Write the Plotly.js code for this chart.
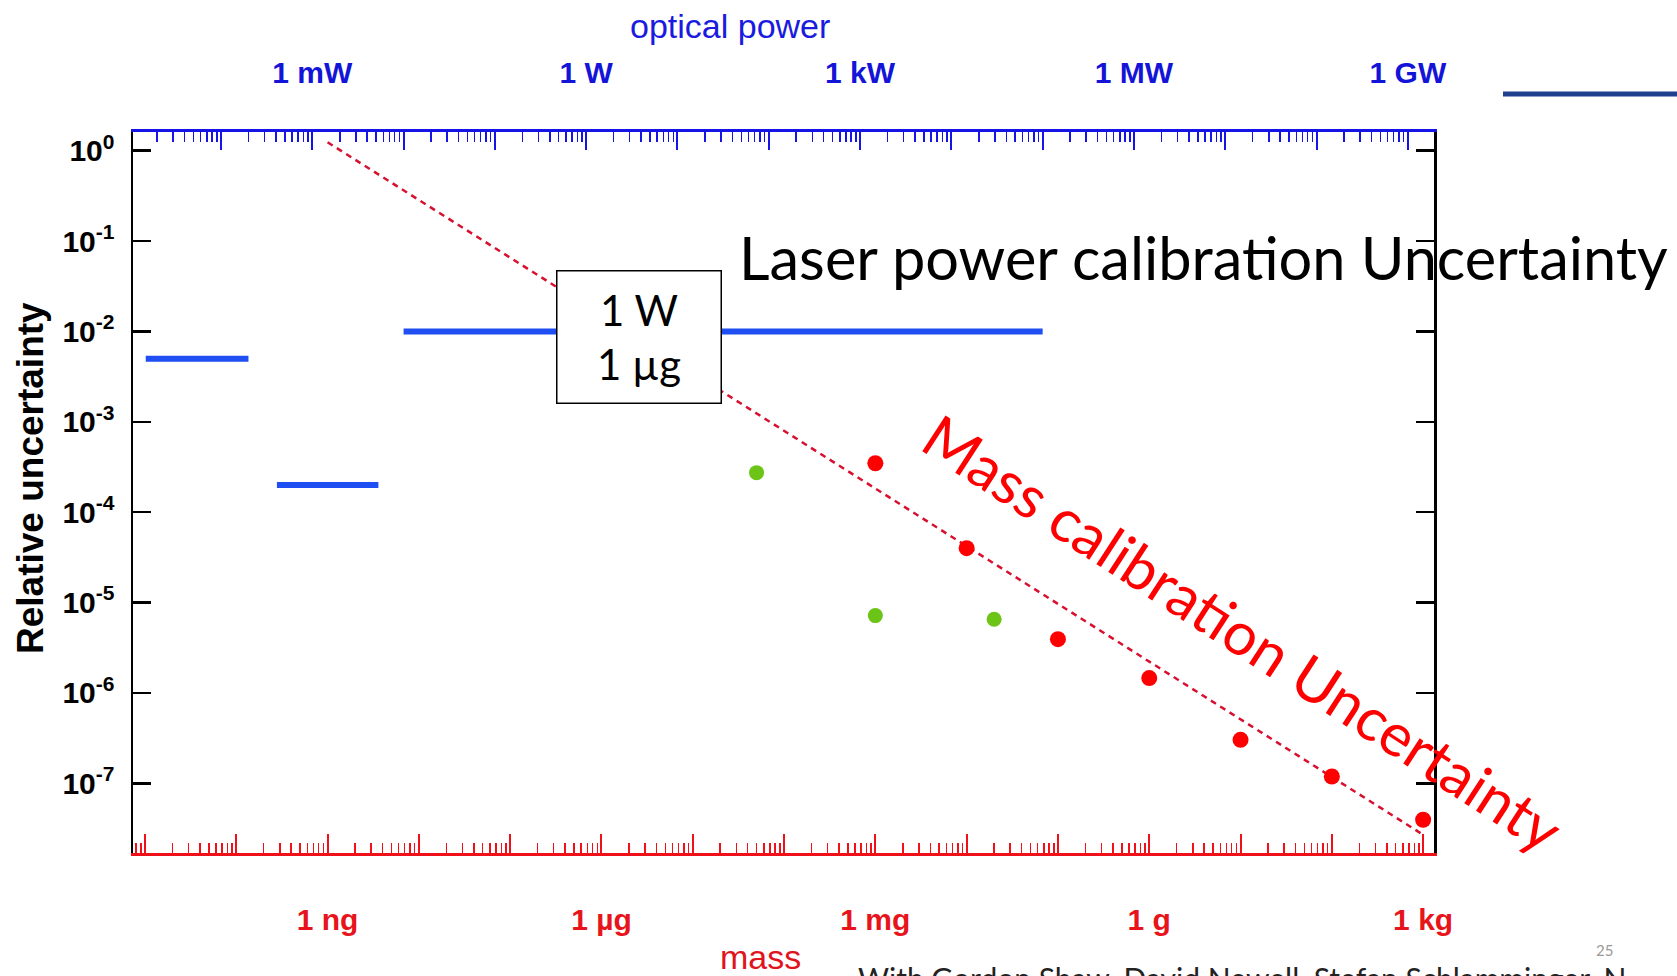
<!DOCTYPE html>
<html>
<head>
<meta charset="utf-8">
<script src="https://cdn.plot.ly/plotly-3.0.1.min.js"></script>
<style>html,body{margin:0;padding:0;background:#fff;}#chart{width:1677px;height:976px;}</style>
</head>
<body>
<div id="chart"></div>
<script>
// ---------------- data ----------------
// bottom axis: mass (grams) — long tick every decade, label every 3 decades
const massDecades = [1e-11, 1e-10, 1e-9, 1e-8, 1e-7, 1e-6, 1e-5, 1e-4, 1e-3, 1e-2, 1e-1, 1, 1e1, 1e2, 1e3];
const massLabelVals = [1e-9, 1e-6, 1e-3, 1, 1e3];
const massLabels = ['1 ng', '1 µg', '1 mg', '1 g', '1 kg'];
// top axis: optical power (W)
const powerDecades = [1e-4, 1e-3, 1e-2, 1e-1, 1, 1e1, 1e2, 1e3, 1e4, 1e5, 1e6, 1e7, 1e8, 1e9];
const powerLabelVals = [1e-3, 1, 1e3, 1e6, 1e9];
const powerLabels = ['1 mW', '1 W', '1 kW', '1 MW', '1 GW'];
// left axis: relative uncertainty
const uncTickVals = [1, 1e-1, 1e-2, 1e-3, 1e-4, 1e-5, 1e-6, 1e-7];
const uncTickText = ['10<sup>0</sup>', '10<sup>-1</sup>', '10<sup>-2</sup>', '10<sup>-3</sup>',
                     '10<sup>-4</sup>', '10<sup>-5</sup>', '10<sup>-6</sup>', '10<sup>-7</sup>'];

// laser power calibration uncertainty (blue bars): power span in W and uncertainty
const laserPowerStart = [1.5e-5, 4.1e-4, 1.0e-2];
const laserPowerEnd   = [2.0e-4, 5.3e-3, 1.0e5];
const laserUnc        = [5e-3, 2e-4, 1e-2];

// mass calibration (red points): mass in g
const redMass = [1e-3, 1e-2, 1e-1, 1, 1e1, 1e2, 1e3];
const redUnc  = [3.48e-4, 4.0e-5, 3.94e-6, 1.46e-6, 3.03e-7, 1.19e-7, 3.95e-8];
// green points
const greenMass = [5e-5, 1e-3, 2e-2];
const greenUnc  = [2.74e-4, 7.18e-6, 6.55e-6];
// dashed trend line
const trendMass = [1e-9, 1e3];
const trendUnc  = [1.24, 2.7e-8];

// radiation pressure conversion: P = m * g * c / 2 (m in g -> W)
const WATT_PER_GRAM = 1e-3 * 9.81 * 2.998e8 / 2;

// ---------------- layout helpers ----------------
const W = 1677, H = 976;
const M = {l: 133, r: 243, t: 132, b: 123};
const PW = W - M.l - M.r, PH = H - M.t - M.b;
const px = x => (x - M.l) / PW;
const py = y => (H - M.b - y) / PH;

const massRange = [-11.131, 3.119];
const powerRange = massRange.map(v => v + Math.log10(WATT_PER_GRAM));
const uncRange = [-7.771, 0.207];

const RED = '#f0101a', BLUE_AX = '#1414e6', BLUE_LINE = '#1f4ff2', GREEN = '#6cc417';
const ARIAL = 'Arial, Liberation Sans, sans-serif';
const CAL = 'Lato, Open Sans, sans-serif';

// blue segments from arrays
const bx = [], by = [];
laserPowerStart.forEach((s, i) => { bx.push(s, laserPowerEnd[i], null); by.push(laserUnc[i], laserUnc[i], null); });

const traces = [
  {x: [], y: [], xaxis: 'x3', yaxis: 'y', type: 'scatter', mode: 'lines', showlegend: false},
  {x: [], y: [], xaxis: 'x4', yaxis: 'y', type: 'scatter', mode: 'lines', showlegend: false},
  {x: bx, y: by, xaxis: 'x2', yaxis: 'y', mode: 'lines', type: 'scatter',
   line: {color: BLUE_LINE, width: 6}, hoverinfo: 'skip', showlegend: false, connectgaps: false},
  {x: trendMass, y: trendUnc, mode: 'lines', type: 'scatter',
   line: {color: '#d81030', width: 2.5, dash: '6px,5px'}, showlegend: false},
  {x: greenMass, y: greenUnc, mode: 'markers', type: 'scatter',
   marker: {color: GREEN, size: 15}, showlegend: false, cliponaxis: false},
  {x: redMass, y: redUnc, mode: 'markers', type: 'scatter',
   marker: {color: '#ff0000', size: 16}, showlegend: false, cliponaxis: false}
];

const tickAxis = (range, side, color, vals, len) => ({
  type: 'log', range: range, side: side, overlaying: 'x', anchor: 'y',
  tickmode: 'array', tickvals: vals, showticklabels: false,
  ticks: 'inside', ticklen: len, tickwidth: 2, tickcolor: color,
  minor: {dtick: 'D1', ticks: 'inside', ticklen: 10, tickwidth: 1.5, tickcolor: color, showgrid: false},
  showline: false, showgrid: false, zeroline: false, automargin: false
});

const layout = {
  width: W, height: H,
  margin: M,
  paper_bgcolor: '#fff', plot_bgcolor: '#fff',
  showlegend: false,
  xaxis: {
    type: 'log', range: massRange, side: 'bottom', anchor: 'y',
    tickmode: 'array', tickvals: massLabelVals, ticktext: massLabels,
    ticks: 'inside', ticklen: 19, tickwidth: 2, tickcolor: RED,
    showline: true, linecolor: RED, linewidth: 3, mirror: false,
    showgrid: false, zeroline: false, automargin: false,
    ticklabelstandoff: 38,
    tickfont: {family: ARIAL, size: 30, color: '#e8141c', weight: 'bold'}
  },
  xaxis2: {
    type: 'log', range: powerRange, side: 'top', overlaying: 'x', anchor: 'y',
    tickmode: 'array', tickvals: powerLabelVals, ticktext: powerLabels,
    ticks: 'inside', ticklen: 18, tickwidth: 2, tickcolor: BLUE_AX,
    showline: true, linecolor: BLUE_AX, linewidth: 3, mirror: false,
    showgrid: false, zeroline: false, automargin: false,
    ticklabelstandoff: 34,
    tickfont: {family: ARIAL, size: 30, color: '#1414d8', weight: 'bold'}
  },
  xaxis3: tickAxis(massRange, 'bottom', RED, massDecades, 19),
  xaxis4: tickAxis(powerRange, 'top', BLUE_AX, powerDecades, 18),
  yaxis: {
    type: 'log', range: uncRange,
    tickmode: 'array', tickvals: uncTickVals, ticktext: uncTickText,
    ticks: 'inside', ticklen: 18, tickwidth: 2.5, tickcolor: '#000',
    showline: true, linecolor: '#000', linewidth: 2.5, mirror: 'ticks',
    showgrid: false, zeroline: false, automargin: false,
    ticklabelstandoff: 10,
    tickfont: {family: ARIAL, size: 30, color: '#000', weight: 'bold'}
  },
  shapes: [
    {type: 'line', xref: 'paper', yref: 'paper', x0: px(1503), x1: px(1677), y0: py(94), y1: py(94),
     line: {color: '#1f3f8f', width: 5}}
  ],
  annotations: [
    {text: 'optical power', xref: 'paper', yref: 'paper', x: px(730), y: py(26), xanchor: 'center', yanchor: 'middle',
     showarrow: false, font: {family: ARIAL, size: 34, color: '#1a1ae0'}},
    {text: 'mass', xref: 'paper', yref: 'paper', x: px(760), y: py(957), xanchor: 'center', yanchor: 'middle',
     showarrow: false, font: {family: ARIAL, size: 34, color: '#e0141c'}},
    {text: 'Relative uncertainty', xref: 'paper', yref: 'paper', x: px(30), y: py(478), xanchor: 'center', yanchor: 'middle',
     textangle: -90, showarrow: false, font: {family: ARIAL, size: 37, color: '#000', weight: 'bold'}},
    {text: 'Laser power calibration Uncertainty', xref: 'paper', yref: 'paper', x: px(1203), y: py(257),
     xanchor: 'center', yanchor: 'middle', showarrow: false, font: {family: CAL, size: 59.5, color: '#000'}},
    {text: 'Mass calibration Uncertainty', xref: 'paper', yref: 'paper', x: px(1243), y: py(632),
     xanchor: 'center', yanchor: 'middle', textangle: 33, showarrow: false, font: {family: CAL, size: 59.5, color: '#ff0000'}},
    {text: '1 W<br>1 µg', xref: 'paper', yref: 'paper', x: px(638.5), y: py(336.7), xanchor: 'center', yanchor: 'middle',
     showarrow: false, width: 163, height: 131, borderpad: 0, bgcolor: '#fff', bordercolor: '#000', borderwidth: 1.5,
     font: {family: CAL, size: 42, color: '#000'}},
    {text: 'With Gordon Shaw, David Newell, Stefan Schlamminger, N', xref: 'paper', yref: 'paper', x: px(856), y: py(958),
     xanchor: 'left', yanchor: 'top', showarrow: false, font: {family: CAL, size: 30, color: '#222'}},
    {text: '25', xref: 'paper', yref: 'paper', x: px(1604), y: py(950), xanchor: 'center', yanchor: 'middle',
     showarrow: false, font: {family: CAL, size: 15, color: '#9a9a9a'}}
  ]
};

Plotly.newPlot('chart', traces, layout, {staticPlot: true, displayModeBar: false});
</script>
</body>
</html>
